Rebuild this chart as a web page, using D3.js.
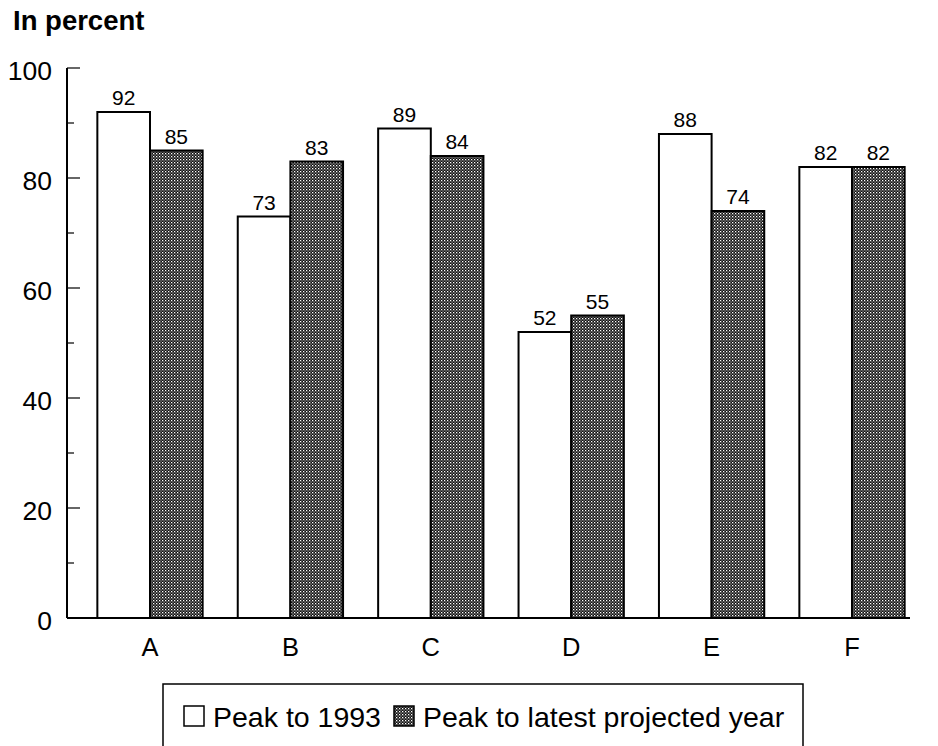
<!DOCTYPE html>
<html><head><meta charset="utf-8">
<script src="https://cdn.jsdelivr.net/npm/d3@7"></script>
<style>body{margin:0;background:#fff}svg{display:block}text{font-family:"Liberation Sans",Arial,Helvetica,sans-serif;fill:#000}</style>
</head><body>
<script>
const categories = ["A","B","C","D","E","F"];
const seriesNames = ["Peak to 1993","Peak to latest projected year"];
const peakTo1993 = [92,73,89,52,88,82];
const peakToLatest = [85,83,84,55,74,82];
const yTicks = [0,20,40,60,80,100];
const yMinorTicks = [10,30,50,70,90];

const W=938,H=746;
const svg=d3.select("body").append("svg").attr("width",W).attr("height",H);
const defs=svg.append("defs");
const pat=defs.append("pattern").attr("id","hatch").attr("patternUnits","userSpaceOnUse").attr("width",3).attr("height",3);
pat.append("rect").attr("width",3).attr("height",3).attr("fill","#111");
pat.append("rect").attr("x",0).attr("y",0).attr("width",1.3).attr("height",1.3).attr("fill","#fff");
pat.append("rect").attr("x",1.5).attr("y",1.5).attr("width",1.1).attr("height",1.1).attr("fill","#d8d8d8");

const y=d3.scaleLinear().domain([0,100]).range([618,68]);
const x=d3.scaleBand().domain(categories).range([79.8,922.2]).paddingInner(0.25).paddingOuter(0.125);
const xs=d3.scaleBand().domain(seriesNames).range([0,x.bandwidth()]);

svg.append("text").attr("x",13).attr("y",30).attr("font-size",27.5).attr("font-weight","bold").text("In percent");

// y axis
const yAxis=svg.append("g").attr("transform","translate(67,0)");
yAxis.append("line").attr("x1",0).attr("x2",0).attr("y1",y(100)).attr("y2",y(0)).attr("stroke","#000").attr("stroke-width",2);
yAxis.selectAll(".maj").data(yTicks).join("line").attr("x1",0).attr("x2",13).attr("y1",d=>y(d)).attr("y2",d=>y(d)).attr("stroke","#000").attr("stroke-width",1.2);
yAxis.selectAll(".min").data(yMinorTicks).join("line").attr("x1",0).attr("x2",7).attr("y1",d=>y(d)).attr("y2",d=>y(d)).attr("stroke","#000").attr("stroke-width",1.2);
yAxis.selectAll(".lab").data(yTicks).join("text").attr("x",-15).attr("y",d=>y(d)+2).attr("dy","0.36em").attr("text-anchor","end").attr("font-size",26.5).text(d=>d);

// bars
const data=[peakTo1993,peakToLatest];
const g=svg.append("g");
categories.forEach((c,i)=>{
  seriesNames.forEach((s,j)=>{
    const v=data[j][i];
    g.append("rect").attr("x",x(c)+xs(s)).attr("y",y(v)).attr("width",xs.bandwidth()).attr("height",y(0)-y(v))
      .attr("fill",j===0?"#fff":"url(#hatch)").attr("stroke","#000").attr("stroke-width",2);
    g.append("text").attr("x",x(c)+xs(s)+xs.bandwidth()/2).attr("y",y(v)-7).attr("text-anchor","middle").attr("font-size",21).text(v);
  });
  svg.append("text").attr("x",x(c)+x.bandwidth()/2).attr("y",656).attr("text-anchor","middle").attr("font-size",25.5).text(c);
});

// x axis line
svg.append("line").attr("x1",67).attr("x2",910).attr("y1",y(0)).attr("y2",y(0)).attr("stroke","#000").attr("stroke-width",2);

// legend
const lg=svg.append("g");
lg.append("rect").attr("x",163).attr("y",684).attr("width",640).attr("height",70).attr("fill","#fff").attr("stroke","#000").attr("stroke-width",1.5);
lg.append("rect").attr("x",184).attr("y",706).attr("width",20).attr("height",20).attr("fill","#fff").attr("stroke","#000").attr("stroke-width",1.5);
lg.append("text").attr("x",213).attr("y",727).attr("font-size",28.5).text(seriesNames[0]);
lg.append("rect").attr("x",394).attr("y",706).attr("width",20).attr("height",20).attr("fill","url(#hatch)").attr("stroke","#000").attr("stroke-width",1.5);
lg.append("text").attr("x",423).attr("y",727).attr("font-size",28.5).text(seriesNames[1]);
</script>
</body></html>
